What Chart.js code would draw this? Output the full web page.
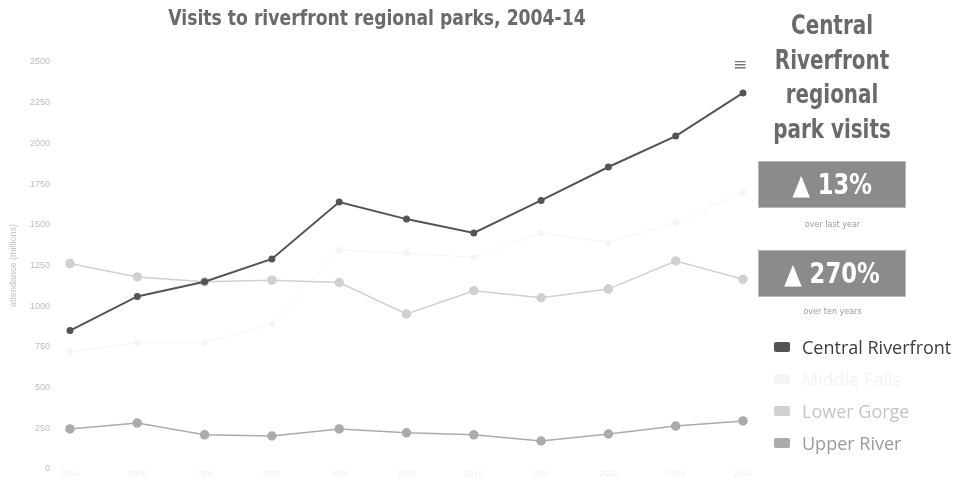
<!DOCTYPE html>
<html>
<head>
<meta charset="utf-8">
<script src="https://cdn.jsdelivr.net/npm/chart.js@4/dist/chart.umd.min.js"></script>
<style>
  html, body { margin: 0; padding: 0; background: #fff; }
  #wrap { position: relative; width: 961px; height: 477px; overflow: hidden; }
  #chart { position: absolute; left: 0; top: 0; }
  .cond { font-family: "DejaVu Sans Condensed", "DejaVu Sans", sans-serif; font-stretch: condensed; font-weight: bold; }
  #title { position: absolute; left: 120px; width: 514px; top: 5px; text-align: center; font-size: 22px; color: #6a6a6a;
           transform: scaleX(0.87); transform-origin: 257px 0; white-space: nowrap; }
  #menu { position: absolute; left: 733px; top: 54px; font-family: "DejaVu Sans", sans-serif; font-size: 17px; color: #777; }
  #side { position: absolute; left: 752px; width: 160px; top: 8px; text-align: center; }
  #side h2 { margin: 0; font-size: 27px; line-height: 34.5px; color: #6a6a6a; transform: scaleX(0.82); transform-origin: 80px 0; }
  .badge { position: absolute; left: 758px; width: 148px; height: 47px; background: #8b8b8b; border: 1px solid #b8b8b8; box-sizing: border-box;
           color: #fff; text-align: center; line-height: 45px; font-size: 28px; }
  .badge span { display: inline-block; transform: scaleX(0.9); }
  .cap { position: absolute; left: 758px; width: 149px; text-align: center; font-family: "DejaVu Sans", sans-serif; font-size: 8px; color: #9a9a9a; }
  #legend { position: absolute; left: 774px; top: 335px; font-family: "Open Sans", "Noto Sans", sans-serif; font-size: 18px; }
  #legend div { height: 32px; line-height: 24px; white-space: nowrap; }
  #legend span.sw { display: inline-block; width: 16px; height: 10px; border-radius: 2px; margin-right: 12px; vertical-align: 2px; }
</style>
</head>
<body>
<div id="wrap">
  <canvas id="chart" width="961" height="477"></canvas>
  <div id="title" class="cond">Visits to riverfront regional parks, 2004-14</div>
  <div id="menu">&#8801;</div>
  <div id="side"><h2 class="cond">Central<br>Riverfront<br>regional<br>park visits</h2></div>
  <div class="badge cond" style="top:161px"><span>&#9650; 13%</span></div>
  <div class="cap" style="top:220px">over last year</div>
  <div class="badge cond" style="top:250px"><span>&#9650; 270%</span></div>
  <div class="cap" style="top:307px">over ten years</div>
  <div id="legend"></div>
</div>
<script>
// Park attendance by year (millions)
const years = ["2004", "2005", "2006", "2007", "2008", "2009", "2010", "2011", "2012", "2013", "2014"];
const centralRiverfront = [850, 1060, 1150, 1290, 1640, 1535, 1450, 1650, 1855, 2045, 2310];
const middleFalls = [720, 775, 775, 890, 1345, 1325, 1300, 1450, 1390, 1515, 1700];
const lowerGorge = [1262, 1180, 1150, 1160, 1145, 952, 1095, 1052, 1105, 1278, 1165];
const upperRiver = [246, 282, 210, 203, 246, 222, 210, 172, 215, 264, 295];
const yTicks = [0, 250, 500, 750, 1000, 1250, 1500, 1750, 2000, 2250, 2500];

const series = [
  { label: "Central Riverfront", data: centralRiverfront, color: "#545454", text: "#3d3d3d", r: 2.5, w: 2 },
  { label: "Middle Falls", data: middleFalls, color: "#f5f5f5", text: "#f3f3f3", r: 3, w: 1 },
  { label: "Lower Gorge", data: lowerGorge, color: "#d0d0d0", text: "#c4c4c4", r: 4, w: 1.5 },
  { label: "Upper River", data: upperRiver, color: "#ababab", text: "#9a9a9a", r: 4, w: 1.5 }
];

const datasets = series.map((s, i) => ({
  label: s.label,
  data: s.data,
  borderColor: s.color,
  backgroundColor: s.color,
  pointBackgroundColor: s.color,
  pointBorderColor: s.color,
  pointRadius: s.r,
  borderWidth: s.w,
  tension: 0,
  order: i === 0 ? 0 : 4 - i
}));

new Chart(document.getElementById("chart"), {
  type: "line",
  data: { labels: years, datasets },
  options: {
    responsive: false,
    animation: false,
    layout: { autoPadding: false, padding: { left: 0, right: 218, top: 62, bottom: 0 } },
    plugins: { legend: { display: false }, tooltip: { enabled: false } },
    scales: {
      x: {
        offset: false,
        grid: { display: false, drawTicks: false },
        border: { display: false },
        ticks: { color: "#eeeeee", font: { size: 8 }, padding: 0, maxRotation: 0 },
        afterFit: (scale) => { scale.height = 8; }
      },
      y: {
        min: 0,
        max: 2500,
        afterBuildTicks: (scale) => { scale.ticks = yTicks.map(v => ({ value: v })); },
        grid: { display: false, drawTicks: true, tickLength: 20 },
        border: { display: false },
        ticks: { color: "#bdbdbd", font: { size: 9 }, padding: 0, callback: (v) => String(v) },
        title: { display: true, text: "attendance (millions)", color: "#c2c2c2", font: { size: 9 }, padding: { top: 8, bottom: 0 } },
        afterFit: (scale) => { scale.width = 70; }
      }
    }
  }
});

// Legend beside the chart
const legend = document.getElementById("legend");
series.forEach(s => {
  const row = document.createElement("div");
  row.style.color = s.text;
  const sw = document.createElement("span");
  sw.className = "sw";
  sw.style.background = s.color;
  row.appendChild(sw);
  row.appendChild(document.createTextNode(s.label));
  legend.appendChild(row);
});
</script>
</body>
</html>
